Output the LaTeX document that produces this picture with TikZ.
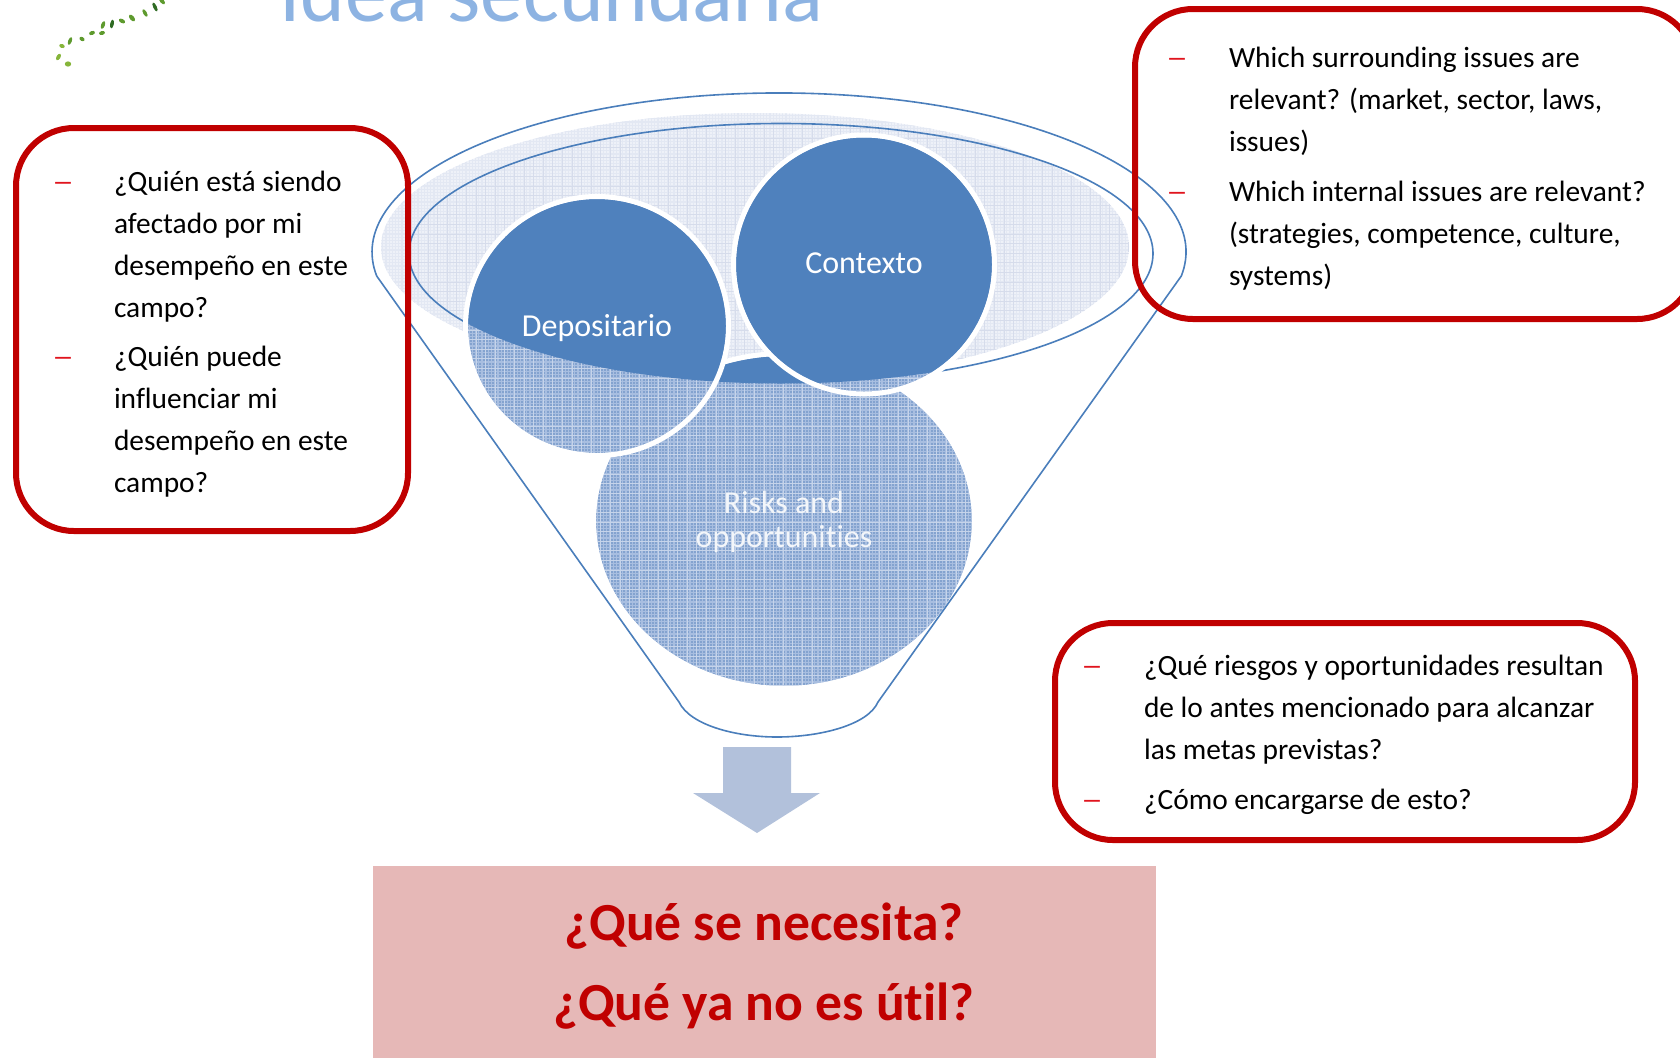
\documentclass[tikz,border=0pt]{standalone}
\usepackage{graphicx}
\usepackage{fontspec}
\setmainfont{Carlito}[Ligatures=NoCommon]
\usetikzlibrary{shapes.geometric}
\definecolor{boxred}{HTML}{C00000}
\definecolor{dashred}{HTML}{E0141E}
\definecolor{funnelblue}{HTML}{4A7EBB}
\definecolor{solidblue}{HTML}{4F81BD}
\definecolor{hatchblue}{HTML}{84A3CF}
\definecolor{hatchfine}{HTML}{A8BEE0}
\definecolor{hatchgrid}{HTML}{C6D4EA}
\definecolor{palefill}{HTML}{EEF1F8}
\definecolor{palefine}{HTML}{E3E8F3}
\definecolor{palegrid}{HTML}{D6DCEB}
\definecolor{arrowblue}{HTML}{B2C1DB}
\definecolor{pinkfill}{HTML}{E6B8B7}
\definecolor{titleblue}{HTML}{8DB3E2}
\definecolor{leaflight}{HTML}{86B53A}
\definecolor{leafmid}{HTML}{5E9A2E}
\definecolor{leafdark}{HTML}{2F6B24}
\newcommand{\fl}{\rule{0pt}{24pt}}
\newcommand{\dashtxt}{\fl\scalebox{1.5}[1]{–}}
\newcommand{\gridlines}[1]{%
  \foreach \gx in {380,389.6,...,1140} {\draw[#1,line width=0.8pt] (\gx,90) -- (\gx,700);}
  \foreach \gy in {90,99.6,...,700} {\draw[#1,line width=0.8pt] (370,\gy) -- (1190,\gy);}
}
\newcommand{\finelines}[1]{%
  \foreach \gx in {370,373.2,...,1190} {\draw[#1,line width=1.3pt] (\gx,90) -- (\gx,700);}
  \foreach \gy in {90,93.2,...,700} {\draw[#1,line width=1.3pt] (370,\gy) -- (1190,\gy);}
}
\newcommand{\innerpath}{(781,253.5) ellipse [x radius=372, y radius=130]}
\tikzset{
  redbox/.style={draw=boxred,line width=6pt,rounded corners=58pt,inner sep=0pt,outer sep=0pt,fill=none},
  para/.style={anchor=north west,inner sep=0pt,outer sep=0pt,align=left,font=\fontsize{29.4}{42.2}\selectfont,text=black},
  dashmark/.style={anchor=north west,inner sep=0pt,outer sep=0pt,font=\fontsize{29.4}{42.2}\selectfont,text=dashred},
  funnelline/.style={draw=funnelblue,line width=1.6pt},
  disclabel/.style={inner sep=0pt,align=center,text=white,font=\fontsize{32}{33.5}\selectfont},
  ring/.style={draw=white,line width=5pt},
  answertext/.style={anchor=base,inner sep=0pt,text=boxred,font=\bfseries\fontsize{53.6}{54}\selectfont},
}
\begin{document}
\begin{tikzpicture}[x=1pt,y=-1pt]
\useasboundingbox (0,0) rectangle (1680,1058);
\clip (0,0) rectangle (1680,1058);

% title and leaves
\node[anchor=base west,inner sep=0pt,text=titleblue,font=\fontsize{85}{85}\selectfont] (title) at (279,21) {Idea secundaria};
\foreach \lx/\ly/\la/\lb/\lrot/\lc in {68/64/3.2/2.6/0/leaflight,58.5/57/3.6/2/60/leaflight,62/46/2.8/2/-20/leaflight,70/41/4/1.8/70/leafmid,82/39/2.8/2/-30/leafmid,92/33/3/2/20/leafmid,102/33/3/2/15/leafmid,103/25/4/1.9/70/leafmid,112/24/4.4/1.8/80/leafdark,122/21/3.4/2/-30/leafmid,132/18/4/2.2/-50/leafmid,145/13/4.2/1.8/-60/leafmid,155/7/4.8/1.8/-65/leafdark,162/1/4/2/-50/leafmid}
  {\fill[\lc,rotate around={\lrot:(\lx,\ly)}] (\lx,\ly) ellipse [x radius=\la, y radius=\lb];}

% pale ellipse
\fill[palefill] (755,247) ellipse [x radius=374, y radius=134];
\begin{scope}
  \clip (755,247) ellipse [x radius=374, y radius=134];
  \finelines{palefine}
  \clip \innerpath;
  \gridlines{palegrid}
\end{scope}
\draw[funnelline] \innerpath;

% risks disc
\fill[hatchblue] (784,521) ellipse [x radius=188, y radius=165];
\begin{scope}
  \clip (784,521) ellipse [x radius=188, y radius=165];
  \finelines{hatchfine}
  \gridlines{hatchgrid}
  \clip \innerpath;
  \fill[solidblue] (500,300) rectangle (1100,700);
\end{scope}
\draw[ring] (784,521) ellipse [x radius=190.5, y radius=167.5];
\node[disclabel,text=white!90!hatchblue] (risks) at (784,522) {Risks and\\opportunities};

% depositario disc
\fill[hatchblue] (597,326) ellipse [x radius=129, y radius=127];
\begin{scope}
  \clip (597,326) ellipse [x radius=129, y radius=127];
  \finelines{hatchfine}
  \gridlines{hatchgrid}
  \clip \innerpath;
  \fill[solidblue] (400,150) rectangle (800,500);
\end{scope}
\draw[ring] (597,326) ellipse [x radius=131.5, y radius=129.5];
\node[disclabel] (depositario) at (597,328) {Depositario};

% contexto disc
\fill[hatchblue] (864,264.5) ellipse [x radius=128, y radius=127];
\begin{scope}
  \clip (864,264.5) ellipse [x radius=128, y radius=127];
  \finelines{hatchfine}
  \gridlines{hatchgrid}
  \clip \innerpath;
  \fill[solidblue] (700,100) rectangle (1050,450);
\end{scope}
\draw[ring] (864,264.5) ellipse [x radius=130.5, y radius=129.5];
\node[disclabel] (contexto) at (864,263) {Contexto};

% funnel outline
\coordinate (fr) at (1181.3,276);
\coordinate (bl) at (679,702);
\coordinate (br) at (878,702);
\coordinate (bm) at (777,737);
\draw[funnelline,line join=round] (fr) arc [start angle=8.7, end angle=-188.7, x radius=407, y radius=159] -- (bl) .. controls (690,725) and (735,737) .. (bm) .. controls (820,737) and (868,725) .. (br) -- (fr);

% down arrow
\fill[arrowblue] (723,747) -- (791,747) -- (791,793) -- (820,793) -- (757,833) -- (693,793) -- (723,793) -- cycle;

% answer box
\node[fill=pinkfill,inner sep=0pt,outer sep=0pt,minimum width=783pt,minimum height=192pt,anchor=north west] (answer) at (373,866) {};
\node[answertext] (q1) at (764,940) {¿Qué se necesita?};
\node[answertext] (q2) at (764,1020) {¿Qué ya no es útil?};

% red boxes
\node[redbox,minimum width=392pt,minimum height=403pt,anchor=north west] (leftbox) at (16,128) {};
\node[redbox,minimum width=560pt,minimum height=310pt,anchor=north west] (rightbox) at (1135,9) {};
\node[redbox,minimum width=580pt,minimum height=217pt,anchor=north west] (lowbox) at (1055,623) {};

% left box text
\node[dashmark] (d1) at (52,167) {\dashtxt};
\node[para] (p1) at (114,167) {\fl¿Quién está siendo\\afectado por mi\\desempeño en este\\campo?};
\node[dashmark] (d2) at (52,342) {\dashtxt};
\node[para] (p2) at (114,342) {\fl¿Quién puede\\influenciar mi\\desempeño en este\\campo?};

% right box text
\node[dashmark] (d3) at (1166,43) {\dashtxt};
\node[para] (p3) at (1229,43) {\fl Which surrounding issues are\\relevant? (market, sector, laws,\\issues)};
\node[dashmark] (d4) at (1166,177) {\dashtxt};
\node[para] (p4) at (1229,177) {\fl Which internal issues are relevant?\\(strategies, competence, culture,\\systems)};

% low box text
\node[dashmark] (d5) at (1081,651) {\dashtxt};
\node[para] (p5) at (1144,651) {\fl¿Qué riesgos y oportunidades resultan\\de lo antes mencionado para alcanzar\\las metas previstas?};
\node[dashmark] (d6) at (1081,785) {\dashtxt};
\node[para] (p6) at (1144,785) {\fl¿Cómo encargarse de esto?};
\end{tikzpicture}
\end{document}
